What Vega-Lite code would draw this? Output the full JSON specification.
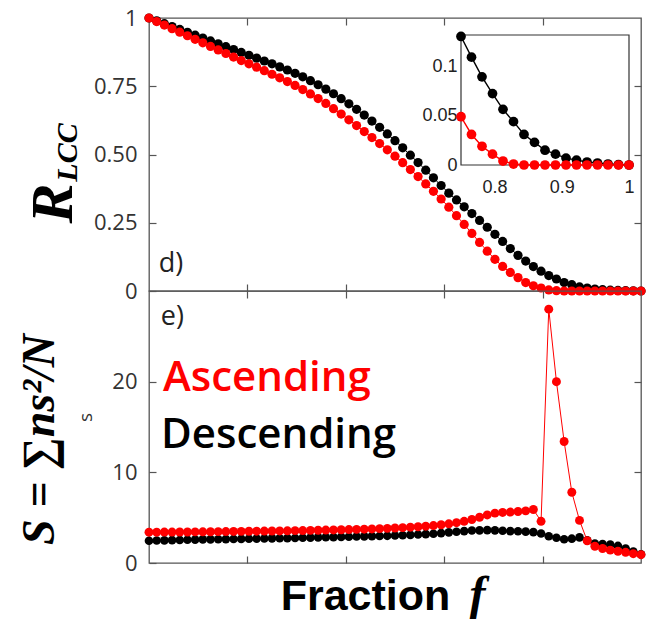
{
  "$schema": "https://vega.github.io/schema/vega-lite/v6.json",
  "background": "white",
  "padding": {"left": 15, "top": 6, "right": 5, "bottom": 0},
  "spacing": 0,
  "bounds": "flush",
  "config": {
    "view": {"stroke": "#555", "strokeWidth": 1.3},
    "axis": {"grid": false, "domain": false, "tickColor": "#555", "tickSize": -7, "tickWidth": 1.2, "labelFont": "Open Sans", "labelFontSize": 22, "labelColor": "#333", "labelPadding": 19, "labelFlush": false, "labelOverlap": false, "labelBound": false, "titleColor": "#000", "titlePadding": 0}
  },
  "datasets": {
    "desc": [
      {"f": 0, "R": 1.0, "S": 2.45}, {"f": 0.015625, "R": 0.9895, "S": 2.48}, {"f": 0.03125, "R": 0.979, "S": 2.50}, {"f": 0.046875, "R": 0.9685, "S": 2.52},
      {"f": 0.0625, "R": 0.958, "S": 2.54}, {"f": 0.078125, "R": 0.9475, "S": 2.56}, {"f": 0.09375, "R": 0.937, "S": 2.58}, {"f": 0.109375, "R": 0.9265, "S": 2.60},
      {"f": 0.125, "R": 0.916, "S": 2.61}, {"f": 0.140625, "R": 0.9055, "S": 2.62}, {"f": 0.15625, "R": 0.895, "S": 2.64}, {"f": 0.171875, "R": 0.8845, "S": 2.65},
      {"f": 0.1875, "R": 0.874, "S": 2.66}, {"f": 0.203125, "R": 0.8635, "S": 2.68}, {"f": 0.21875, "R": 0.853, "S": 2.69}, {"f": 0.234375, "R": 0.8425, "S": 2.70},
      {"f": 0.25, "R": 0.832, "S": 2.72}, {"f": 0.265625, "R": 0.821, "S": 2.73}, {"f": 0.28125, "R": 0.8095, "S": 2.75}, {"f": 0.296875, "R": 0.7975, "S": 2.76},
      {"f": 0.3125, "R": 0.7845, "S": 2.78}, {"f": 0.328125, "R": 0.7705, "S": 2.80}, {"f": 0.34375, "R": 0.7555, "S": 2.82}, {"f": 0.359375, "R": 0.7395, "S": 2.84},
      {"f": 0.375, "R": 0.7225, "S": 2.86}, {"f": 0.390625, "R": 0.7045, "S": 2.88}, {"f": 0.40625, "R": 0.6855, "S": 2.90}, {"f": 0.421875, "R": 0.6655, "S": 2.92},
      {"f": 0.4375, "R": 0.6445, "S": 2.94}, {"f": 0.453125, "R": 0.6225, "S": 2.96}, {"f": 0.46875, "R": 0.5995, "S": 2.98}, {"f": 0.484375, "R": 0.5755, "S": 3.00},
      {"f": 0.5, "R": 0.5505, "S": 3.03}, {"f": 0.515625, "R": 0.5245, "S": 3.06}, {"f": 0.53125, "R": 0.4975, "S": 3.10}, {"f": 0.546875, "R": 0.4705, "S": 3.14},
      {"f": 0.5625, "R": 0.4425, "S": 3.18}, {"f": 0.578125, "R": 0.4145, "S": 3.23}, {"f": 0.59375, "R": 0.3865, "S": 3.30}, {"f": 0.609375, "R": 0.3585, "S": 3.38},
      {"f": 0.625, "R": 0.3335, "S": 3.45}, {"f": 0.640625, "R": 0.3085, "S": 3.52}, {"f": 0.65625, "R": 0.2835, "S": 3.58}, {"f": 0.671875, "R": 0.2585, "S": 3.60},
      {"f": 0.6875, "R": 0.2335, "S": 3.62}, {"f": 0.703125, "R": 0.2075, "S": 3.60}, {"f": 0.71875, "R": 0.1815, "S": 3.56}, {"f": 0.734375, "R": 0.1555, "S": 3.52},
      {"f": 0.75, "R": 0.1305, "S": 3.50}, {"f": 0.765625, "R": 0.1095, "S": 3.46}, {"f": 0.78125, "R": 0.0895, "S": 3.40}, {"f": 0.796875, "R": 0.0725, "S": 3.25},
      {"f": 0.8125, "R": 0.0565, "S": 2.95}, {"f": 0.828125, "R": 0.044, "S": 2.78}, {"f": 0.84375, "R": 0.031, "S": 2.62}, {"f": 0.859375, "R": 0.023, "S": 2.68},
      {"f": 0.875, "R": 0.015, "S": 2.82}, {"f": 0.890625, "R": 0.011, "S": 2.50}, {"f": 0.90625, "R": 0.007, "S": 2.15}, {"f": 0.921875, "R": 0.005, "S": 2.10},
      {"f": 0.9375, "R": 0.003, "S": 2.02}, {"f": 0.953125, "R": 0.002, "S": 1.88}, {"f": 0.96875, "R": 0.001, "S": 1.60}, {"f": 0.984375, "R": 0.0005, "S": 1.25},
      {"f": 1, "R": 0, "S": 0.95}
    ],
    "asc": [
      {"f": 0, "R": 1.0, "S": 3.40}, {"f": 0.015625, "R": 0.987, "S": 3.40}, {"f": 0.03125, "R": 0.974, "S": 3.41}, {"f": 0.046875, "R": 0.961, "S": 3.41},
      {"f": 0.0625, "R": 0.948, "S": 3.42}, {"f": 0.078125, "R": 0.935, "S": 3.42}, {"f": 0.09375, "R": 0.922, "S": 3.43}, {"f": 0.109375, "R": 0.909, "S": 3.44},
      {"f": 0.125, "R": 0.896, "S": 3.45}, {"f": 0.140625, "R": 0.883, "S": 3.46}, {"f": 0.15625, "R": 0.870, "S": 3.47}, {"f": 0.171875, "R": 0.857, "S": 3.48},
      {"f": 0.1875, "R": 0.844, "S": 3.49}, {"f": 0.203125, "R": 0.832, "S": 3.50}, {"f": 0.21875, "R": 0.820, "S": 3.51}, {"f": 0.234375, "R": 0.807, "S": 3.52},
      {"f": 0.25, "R": 0.794, "S": 3.53}, {"f": 0.265625, "R": 0.781, "S": 3.54}, {"f": 0.28125, "R": 0.767, "S": 3.55}, {"f": 0.296875, "R": 0.753, "S": 3.57},
      {"f": 0.3125, "R": 0.738, "S": 3.58}, {"f": 0.328125, "R": 0.722, "S": 3.60}, {"f": 0.34375, "R": 0.705, "S": 3.61}, {"f": 0.359375, "R": 0.687, "S": 3.63},
      {"f": 0.375, "R": 0.668, "S": 3.65}, {"f": 0.390625, "R": 0.648, "S": 3.67}, {"f": 0.40625, "R": 0.627, "S": 3.69}, {"f": 0.421875, "R": 0.606, "S": 3.71},
      {"f": 0.4375, "R": 0.584, "S": 3.73}, {"f": 0.453125, "R": 0.562, "S": 3.76}, {"f": 0.46875, "R": 0.540, "S": 3.79}, {"f": 0.484375, "R": 0.517, "S": 3.82},
      {"f": 0.5, "R": 0.494, "S": 3.86}, {"f": 0.515625, "R": 0.470, "S": 3.90}, {"f": 0.53125, "R": 0.445, "S": 3.95}, {"f": 0.546875, "R": 0.419, "S": 4.00},
      {"f": 0.5625, "R": 0.392, "S": 4.06}, {"f": 0.578125, "R": 0.365, "S": 4.13}, {"f": 0.59375, "R": 0.337, "S": 4.22}, {"f": 0.609375, "R": 0.307, "S": 4.32},
      {"f": 0.625, "R": 0.276, "S": 4.45}, {"f": 0.640625, "R": 0.244, "S": 4.60}, {"f": 0.65625, "R": 0.211, "S": 4.80}, {"f": 0.671875, "R": 0.178, "S": 5.05},
      {"f": 0.6875, "R": 0.146, "S": 5.30}, {"f": 0.703125, "R": 0.116, "S": 5.50}, {"f": 0.71875, "R": 0.090, "S": 5.58}, {"f": 0.734375, "R": 0.068, "S": 5.62},
      {"f": 0.75, "R": 0.049, "S": 5.68}, {"f": 0.765625, "R": 0.031, "S": 5.75}, {"f": 0.78125, "R": 0.019, "S": 5.90}, {"f": 0.796875, "R": 0.011, "S": 4.60},
      {"f": 0.8125, "R": 0.004, "S": 28.0}, {"f": 0.828125, "R": 0.001, "S": 20.0}, {"f": 0.84375, "R": 0, "S": 13.4}, {"f": 0.859375, "R": 0, "S": 7.8},
      {"f": 0.875, "R": 0, "S": 4.7}, {"f": 0.890625, "R": 0, "S": 2.45}, {"f": 0.90625, "R": 0, "S": 1.85}, {"f": 0.921875, "R": 0, "S": 1.60},
      {"f": 0.9375, "R": 0, "S": 1.42}, {"f": 0.953125, "R": 0, "S": 1.30}, {"f": 0.96875, "R": 0, "S": 1.18}, {"f": 0.984375, "R": 0, "S": 1.03},
      {"f": 1, "R": 0, "S": 0.92}
    ]
  },
  "vconcat": [
    {
      "width": 492,
      "height": 273,
      "resolve": {"scale": {"x": "independent", "y": "independent"}},
      "layer": [
        {
          "data": {"name": "desc"},
          "layer": [
            {
              "mark": {"type": "line", "color": "#000000", "strokeWidth": 1},
              "encoding": {
                "x": {"field": "f", "type": "quantitative", "scale": {"domain": [0, 1], "nice": false, "zero": false},
                  "axis": {"orient": "bottom", "values": [0.2, 0.4, 0.6, 0.8], "labels": false, "title": null}},
                "y": {"field": "R", "type": "quantitative", "scale": {"domain": [0, 1], "nice": false, "zero": false},
                  "axis": {"orient": "left", "values": [0, 0.25, 0.5, 0.75, 1],
                    "labelExpr": "datum.value == 0 ? '0' : datum.value == 1 ? '1' : format(datum.value, '.2f')",
                    "title": "R", "titleFont": "Liberation Serif", "titleFontSize": 60, "titleFontWeight": "bold", "titleFontStyle": "italic",
                    "titleAngle": -90, "titleX": -78, "titleY": 185, "titleAlign": "center", "titleBaseline": "alphabetic"}}
              }
            },
            {
              "mark": {"type": "point", "filled": true, "color": "#000000", "size": 85, "opacity": 1},
              "encoding": {
                "x": {"field": "f", "type": "quantitative"},
                "y": {"field": "R", "type": "quantitative"}
              }
            },
            {
              "data": {"values": [{"label": "d)"}]},
              "mark": {"type": "text", "align": "left", "baseline": "alphabetic", "font": "Open Sans", "fontSize": 27, "color": "#222"},
              "encoding": {"x": {"datum": 0.02}, "y": {"datum": 0.068}, "text": {"field": "label"}}
            }
          ]
        },
        {
          "data": {"name": "asc"},
          "layer": [
            {
              "mark": {"type": "line", "color": "#ff0000", "strokeWidth": 1},
              "encoding": {
                "x": {"field": "f", "type": "quantitative", "scale": {"domain": [0, 1], "nice": false, "zero": false},
                  "axis": {"orient": "top", "values": [0.2, 0.4, 0.6, 0.8], "labels": false, "title": null}},
                "y": {"field": "R", "type": "quantitative", "scale": {"domain": [0, 1], "nice": false, "zero": false},
                  "axis": {"orient": "right", "values": [0.25, 0.5, 0.75], "labels": false,
                    "title": "LCC", "titleFont": "Liberation Serif", "titleFontSize": 30, "titleFontWeight": "bold", "titleFontStyle": "italic",
                    "titleAngle": -90, "titleX": -565, "titleY": 134, "titleAlign": "center", "titleBaseline": "alphabetic"}}
              }
            },
            {
              "mark": {"type": "point", "filled": true, "color": "#ff0000", "size": 85, "opacity": 1},
              "encoding": {
                "x": {"field": "f", "type": "quantitative"},
                "y": {"field": "R", "type": "quantitative"}
              }
            }
          ]
        },
        {
          "layer": [
            {
              "data": {"values": [{"box": "inset"}]},
              "mark": {"type": "rect", "fill": "white", "stroke": "#333", "strokeWidth": 1.2},
              "encoding": {
                "x": {"datum": 0.75, "type": "quantitative", "scale": {"domain": [0.75, 1], "range": [312, 480], "nice": false, "zero": false},
                  "axis": {"orient": "bottom", "offset": -126, "values": [0.8, 0.9, 1], "labelExpr": "toString(datum.value)", "ticks": false,
                    "labelPadding": 13, "labelFont": "Liberation Sans", "labelFontSize": 18, "labelColor": "#222", "title": null}},
                "x2": {"datum": 1},
                "y": {"datum": 0, "type": "quantitative", "scale": {"domain": [0, 0.132], "range": [147, 17], "nice": false, "zero": false},
                  "axis": {"orient": "left", "offset": -312, "values": [0, 0.05, 0.1], "labelExpr": "toString(datum.value)", "ticks": false,
                    "labelPadding": 4, "labelFont": "Liberation Sans", "labelFontSize": 18, "labelColor": "#222", "title": null}},
                "y2": {"datum": 0.132}
              }
            },
            {
              "data": {"name": "desc"},
              "transform": [{"filter": "datum.f >= 0.749"}],
              "mark": {"type": "line", "color": "#000000", "strokeWidth": 1.4},
              "encoding": {"x": {"field": "f", "type": "quantitative"}, "y": {"field": "R", "type": "quantitative"}}
            },
            {
              "data": {"name": "desc"},
              "transform": [{"filter": "datum.f >= 0.749"}],
              "mark": {"type": "point", "filled": true, "color": "#000000", "size": 95, "opacity": 1},
              "encoding": {"x": {"field": "f", "type": "quantitative"}, "y": {"field": "R", "type": "quantitative"}}
            },
            {
              "data": {"name": "asc"},
              "transform": [{"filter": "datum.f >= 0.749"}],
              "mark": {"type": "line", "color": "#ff0000", "strokeWidth": 1.4},
              "encoding": {"x": {"field": "f", "type": "quantitative"}, "y": {"field": "R", "type": "quantitative"}}
            },
            {
              "data": {"name": "asc"},
              "transform": [{"filter": "datum.f >= 0.749"}],
              "mark": {"type": "point", "filled": true, "color": "#ff0000", "size": 95, "opacity": 1},
              "encoding": {"x": {"field": "f", "type": "quantitative"}, "y": {"field": "R", "type": "quantitative"}}
            }
          ]
        }
      ]
    },
    {
      "width": 492,
      "height": 272,
      "resolve": {"scale": {"x": "independent", "y": "independent"}},
      "layer": [
        {
          "data": {"name": "desc"},
          "layer": [
            {
              "mark": {"type": "line", "color": "#000000", "strokeWidth": 1},
              "encoding": {
                "x": {"field": "f", "type": "quantitative", "scale": {"domain": [0, 1], "nice": false, "zero": false},
                  "axis": {"orient": "bottom", "values": [0.2, 0.4, 0.6, 0.8], "labels": false,
                    "title": "Fraction", "titleFont": "Liberation Sans", "titleFontSize": 43, "titleFontWeight": "bold",
                    "titleX": 216, "titleY": 46, "titleAlign": "center", "titleBaseline": "alphabetic"}},
                "y": {"field": "S", "type": "quantitative", "scale": {"domain": [0, 30], "nice": false, "zero": false},
                  "axis": {"orient": "left", "values": [0, 10, 20],
                    "title": "S = ∑ns²/N", "titleFont": "Liberation Serif", "titleFontSize": 46, "titleFontWeight": "bold", "titleFontStyle": "italic",
                    "titleAngle": -90, "titleX": -96, "titleY": 148, "titleAlign": "center", "titleBaseline": "alphabetic"}}
              }
            },
            {
              "mark": {"type": "point", "filled": true, "color": "#000000", "size": 75, "opacity": 1},
              "encoding": {
                "x": {"field": "f", "type": "quantitative"},
                "y": {"field": "S", "type": "quantitative"}
              }
            },
            {
              "data": {"values": [{"label": "e)"}]},
              "mark": {"type": "text", "align": "left", "baseline": "alphabetic", "font": "Open Sans", "fontSize": 27, "color": "#222"},
              "encoding": {"x": {"datum": 0.024}, "y": {"datum": 26.3}, "text": {"field": "label"}}
            },
            {
              "data": {"values": [{"label": "Ascending"}]},
              "mark": {"type": "text", "align": "left", "baseline": "alphabetic", "font": "Open Sans", "fontSize": 42, "fontWeight": 600, "color": "#ff0000"},
              "encoding": {"x": {"datum": 0.0285}, "y": {"datum": 19.0}, "text": {"field": "label"}}
            },
            {
              "data": {"values": [{"label": "Descending"}]},
              "mark": {"type": "text", "align": "left", "baseline": "alphabetic", "font": "Open Sans", "fontSize": 42, "fontWeight": 600, "color": "#000000"},
              "encoding": {"x": {"datum": 0.0244}, "y": {"datum": 12.7}, "text": {"field": "label"}}
            }
          ]
        },
        {
          "data": {"name": "asc"},
          "layer": [
            {
              "mark": {"type": "line", "color": "#ff0000", "strokeWidth": 1},
              "encoding": {
                "x": {"field": "f", "type": "quantitative", "scale": {"domain": [0, 1], "nice": false, "zero": false},
                  "axis": {"orient": "top", "values": [0.2, 0.4, 0.6, 0.8], "labels": false,
                    "title": "f", "titleFont": "Liberation Serif", "titleFontSize": 48, "titleFontWeight": "bold", "titleFontStyle": "italic",
                    "titleX": 328, "titleY": 318, "titleAlign": "center", "titleBaseline": "alphabetic"}},
                "y": {"field": "S", "type": "quantitative", "scale": {"domain": [0, 30], "nice": false, "zero": false},
                  "axis": {"orient": "right", "values": [10, 20], "labels": false,
                    "title": "s", "titleFont": "Open Sans", "titleFontSize": 19, "titleFontWeight": "normal", "titleColor": "#333",
                    "titleAngle": -90, "titleX": -550, "titleY": 126, "titleAlign": "center", "titleBaseline": "alphabetic"}}
              }
            },
            {
              "mark": {"type": "point", "filled": true, "color": "#ff0000", "size": 80, "opacity": 1},
              "encoding": {
                "x": {"field": "f", "type": "quantitative"},
                "y": {"field": "S", "type": "quantitative"}
              }
            }
          ]
        }
      ]
    }
  ]
}
